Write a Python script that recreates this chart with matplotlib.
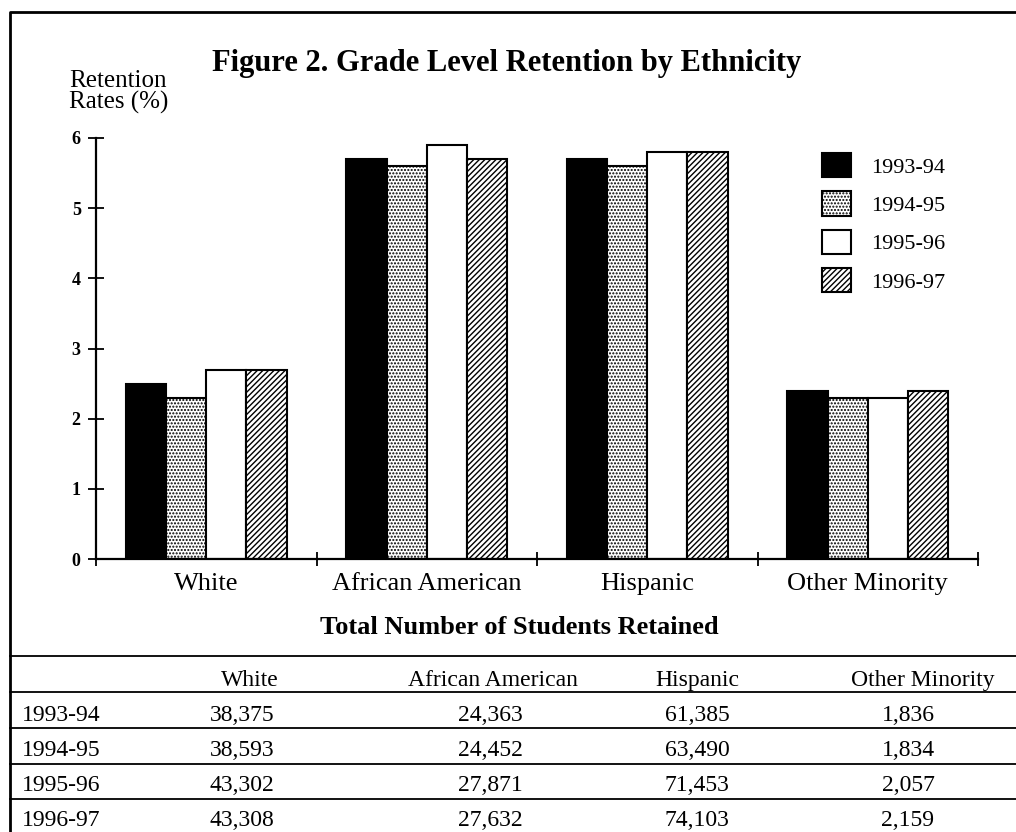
import matplotlib
matplotlib.use('Agg')
import matplotlib.pyplot as plt
import numpy as np
from matplotlib.lines import Line2D
from matplotlib.patches import Patch

plt.rcParams['font.family'] = ['Liberation Serif', 'DejaVu Serif']
plt.rcParams['hatch.linewidth'] = 1.0

groups = ['White', 'African American', 'Hispanic', 'Other Minority']
years = ['1993-94', '1994-95', '1995-96', '1996-97']

# retention rates (%) per school year, one value per group
rate_9394 = [2.5, 5.7, 5.7, 2.4]
rate_9495 = [2.3, 5.6, 5.6, 2.3]
rate_9596 = [2.7, 5.9, 5.8, 2.3]
rate_9697 = [2.7, 5.7, 5.8, 2.4]

# total number of students retained
retained_9394 = ['38,375', '24,363', '61,385', '1,836']
retained_9495 = ['38,593', '24,452', '63,490', '1,834']
retained_9596 = ['43,302', '27,871', '71,453', '2,057']
retained_9697 = ['43,308', '27,632', '74,103', '2,159']

rates = [rate_9394, rate_9495, rate_9596, rate_9697]
retained = [retained_9394, retained_9495, retained_9596, retained_9697]

W, H = 1016, 832


def fx(px):
    return px / W


def fy(py):
    return 1 - py / H


fig = plt.figure(figsize=(W / 100, H / 100), dpi=100)
ax = fig.add_axes([fx(96), fy(559), fx(978) - fx(96), fy(138) - fy(559)])

styles = [
    dict(facecolor='black', hatch=None),
    dict(facecolor='white', hatch='.....'),
    dict(facecolor='white', hatch=None),
    dict(facecolor='white', hatch='//////'),
]

x = np.arange(len(groups)) + 0.5
width = 0.182
for i, (vals, st) in enumerate(zip(rates, styles)):
    ax.bar(x + (i - 1.5) * width, vals, width, edgecolor='black',
           linewidth=1.5, **st)

ax.set_xlim(0, 4)
ax.set_ylim(0, 6)
for side in ['top', 'right']:
    ax.spines[side].set_visible(False)
for side in ['left', 'bottom']:
    ax.spines[side].set_linewidth(1.6)

ax.set_yticks(range(7))
ax.tick_params(axis='y', direction='inout', length=12, width=1.3,
               labelsize=13, pad=5)
for lbl in ax.get_yticklabels():
    lbl.set_fontweight('bold')

ax.set_xticks(range(5))
ax.set_xticklabels([])
ax.tick_params(axis='x', which='major', direction='inout', length=10, width=1.3)
ax.set_xticks(x, minor=True)
ax.set_xticklabels(groups, minor=True, fontsize=19)
ax.tick_params(axis='x', which='minor', length=0, pad=10)

handles = [Patch(edgecolor='black', linewidth=1.5, label=y, **st)
           for y, st in zip(years, styles)]
fig.legend(handles=handles, loc='upper left',
           bbox_to_anchor=(fx(822), fy(153)), bbox_transform=fig.transFigure,
           frameon=False, fontsize=16, handlelength=1.3, handleheight=1.3,
           labelspacing=0.62, handletextpad=0.9, borderpad=0, borderaxespad=0)

fig.text(fx(507), fy(64), 'Figure 2. Grade Level Retention by Ethnicity',
         ha='center', va='center', fontsize=22, fontweight='bold')
fig.text(fx(69), fy(70), 'Retention\nRates (%)', ha='left', va='top',
         fontsize=18, linespacing=0.95)
fig.text(fx(519), fy(627), 'Total Number of Students Retained',
         ha='center', va='center', fontsize=19, fontweight='bold')

# outer border
fig.add_artist(Line2D([fx(10), fx(10), fx(1016)], [fy(832), fy(12), fy(12)],
                      transform=fig.transFigure, color='black', lw=2))

# table
for ly in [656, 692, 728, 764, 799]:
    fig.add_artist(Line2D([fx(10), fx(1016)], [fy(ly), fy(ly)],
                          transform=fig.transFigure, color='black', lw=1.3))

header_x = [250, 493, 697, 923]
value_x = [242, 490, 697, 908]
for g, hx in zip(groups, header_x):
    fig.text(fx(hx), fy(686), g, ha='center', va='baseline', fontsize=17)
for r, (yr, row) in enumerate(zip(years, retained)):
    base = 721 + r * 35
    fig.text(fx(22), fy(base), yr, ha='left', va='baseline', fontsize=17)
    for v, vx in zip(row, value_x):
        fig.text(fx(vx), fy(base), v, ha='center', va='baseline', fontsize=17)

fig.savefig('out.png', dpi=100)
